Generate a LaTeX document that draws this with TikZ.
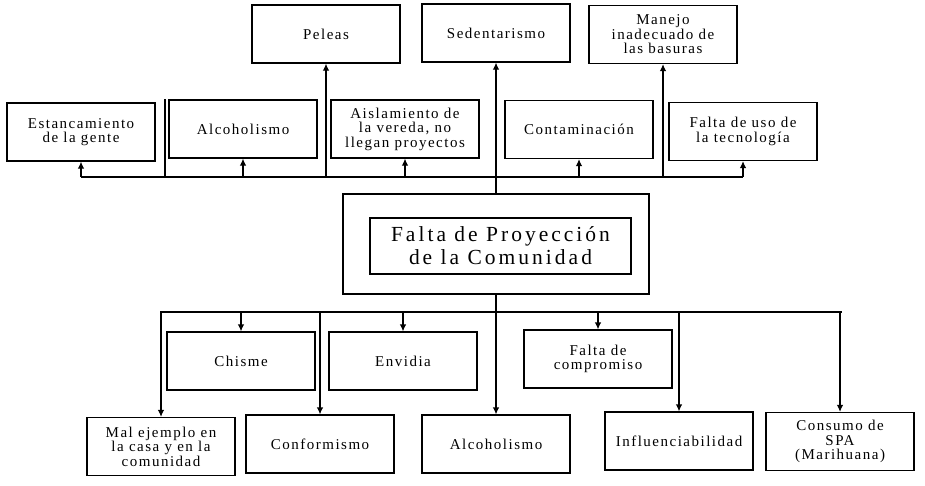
\documentclass[tikz,border=0pt]{standalone}
\usepackage{fontspec}
\setmainfont{Liberation Serif}[LetterSpace=10]
\usepackage{tikz}
\usetikzlibrary{arrows.meta,positioning}

\begin{document}
\begin{tikzpicture}[
  x=1pt, y=-1pt,
  box/.style={draw, line width=1.2pt, align=center, minimum width=148pt, minimum height=58pt, inner sep=2pt, font=\fontsize{15}{14.5}\selectfont},
  arrow/.style={-{Latex[length=7pt,width=6.5pt]}, line width=1.2pt},
  bus/.style={line width=1.2pt}
]
\useasboundingbox (0,0) rectangle (925,485);

% efectos (arriba)
\node[box] (peleas) at (326,34) {Peleas};
\node[box] (sedent) at (496,33) {Sedentarismo};
\node[box] (manejo) at (663,34.5) {Manejo\\inadecuado de\\las basuras};
\node[box] (estanc) at (81,132) {Estancamiento\\de la gente};
\node[box] (alcoh) at (243,129) {Alcoholismo};
\node[box] (aislam) at (405,129) {Aislamiento de\\la vereda, no\\llegan proyectos};
\node[box] (contam) at (579,129.5) {Contaminación};
\node[box] (faltauso) at (743,131.5) {Falta de uso de\\la tecnología};

% problema central
\node[draw, line width=1.2pt, minimum width=306pt, minimum height=100pt] (problema) at (496,244) {};
\node[draw, line width=1.2pt, minimum width=261pt, minimum height=56pt, align=center,
  font=\fontsize{21.5}{23}\selectfont\addfontfeature{LetterSpace=14}] (titulo) at (500.5,246) {Falta de Proyección\\de la Comunidad};

% causas (abajo)
\node[box] (chisme) at (241,361) {Chisme};
\node[box] (envidia) at (403,361) {Envidia};
\node[box] (compromiso) at (598,359) {Falta de\\compromiso};
\node[box] (malejemplo) at (161,446.5) {Mal ejemplo  en\\la casa y en la\\comunidad};
\node[box] (conform) at (320,444) {Conformismo};
\node[box] (alcoh2) at (496,444) {Alcoholismo};
\node[box] (influen) at (679,441) {Influenciabilidad};
\node[box] (consumo) at (840,441.5) {Consumo de\\SPA\\(Marihuana)};

% lineas de reparto
\coordinate (tbusL) at (81,177);
\coordinate (tbusR) at (743,177);
\coordinate (bbusL) at (160,312);
\coordinate (bbusR) at (842,312);
\coordinate (marca) at (165,99);

\draw[bus] (tbusL) -- (tbusR);
\draw[bus] (bbusL) -- (bbusR);
\draw[bus] (marca) -- (marca |- tbusL);

\draw[arrow] (problema) -- (sedent);
\draw[arrow] (peleas |- tbusL) -- (peleas);
\draw[arrow] (manejo |- tbusL) -- (manejo);
\draw[arrow] (estanc |- tbusL) -- (estanc);
\draw[arrow] (alcoh |- tbusL) -- (alcoh);
\draw[arrow] (aislam |- tbusL) -- (aislam);
\draw[arrow] (contam |- tbusL) -- (contam);
\draw[arrow] (faltauso |- tbusL) -- (faltauso);

\draw[arrow] (problema) -- (alcoh2);
\draw[arrow] (chisme |- bbusL) -- (chisme);
\draw[arrow] (envidia |- bbusL) -- (envidia);
\draw[arrow] (compromiso |- bbusL) -- (compromiso);
\draw[arrow] (malejemplo |- bbusL) -- (malejemplo);
\draw[arrow] (conform |- bbusL) -- (conform);
\draw[arrow] (influen |- bbusL) -- (influen);
\draw[arrow] (consumo |- bbusL) -- (consumo);
\end{tikzpicture}
\end{document}
